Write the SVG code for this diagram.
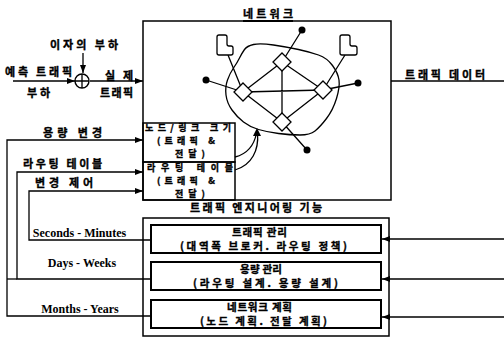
<svg xmlns="http://www.w3.org/2000/svg" width="504" height="338" viewBox="0 0 504 338">
<style>
.k{font-family:"Noto Sans CJK KR","Noto Sans",sans-serif;font-size:11px;font-weight:bold;fill:#000;stroke:#000;stroke-width:0.35}
.s{font-size:9px}
.m{font-size:10.5px}
.e{font-family:"Liberation Serif","Times New Roman",serif;font-size:12px;font-weight:bold;fill:#000}
.ln{fill:none;stroke:#000;stroke-width:1.3}
.box{fill:none;stroke:#000;stroke-width:1.5}
.ibox{fill:#fff;stroke:#000;stroke-width:2}
.dia{fill:#fff;stroke:#000;stroke-width:1.3}
.dot{fill:#000}
</style>
<defs>
<marker id="ah" viewBox="0 0 8 6" refX="8" refY="3" markerWidth="8" markerHeight="6" markerUnits="userSpaceOnUse" orient="auto"><path d="M0,0 L8,3 L0,6 z" fill="#000"/></marker>
</defs>
<rect width="504" height="338" fill="#fff"/>

<g id="connectors">
<path class="ln" d="M83,53 L83,73" marker-end="url(#ah)"/>
<path class="ln" d="M13,81 L75,81" marker-end="url(#ah)"/>
<path class="ln" d="M90,81 L143,81" marker-end="url(#ah)"/>
<path class="ln" d="M391,81 L504,81"/>
<path class="ln" d="M151,316 L7,316 L7,140 L143,140" marker-end="url(#ah)"/>
<path class="ln" d="M151,279 L17,279 L17,172 L143,172" marker-end="url(#ah)"/>
<path class="ln" d="M17,279 L7,279"/>
<path class="ln" d="M151,240 L29,240 L29,191 L143,191" marker-end="url(#ah)"/>
<path class="ln" d="M504,239 L382,239" marker-end="url(#ah)"/>
<path class="ln" d="M504,279 L382,279" marker-end="url(#ah)"/>
<path class="ln" d="M504,317 L382,317" marker-end="url(#ah)"/>
<path class="ln" d="M235,157 C247,154 254,146 256.5,133"/>
<path class="ln" d="M235,170 C252,165 259,150 257.5,133"/>
<path d="M253,136 L257,128 L261,136 z" fill="#000"/>
</g>

<g id="sum">
<circle cx="82" cy="81" r="7" fill="#fff" stroke="#000" stroke-width="1.4"/>
<path class="ln" d="M75,81 L89,81 M82,74 L82,88"/>
<text class="k" x="50" y="49" textLength="68" lengthAdjust="spacing">이자의 부하</text>
<text class="k" x="5" y="76" textLength="67" lengthAdjust="spacing">예측 트래픽</text>
<text class="k" x="27" y="97" textLength="23" lengthAdjust="spacing">부하</text>
<text class="k" x="105" y="79.5" textLength="28" lengthAdjust="spacing">실제</text>
<text class="k" x="100" y="97" textLength="33" lengthAdjust="spacing">트래픽</text>
</g>

<g id="network">
<rect class="box" x="143" y="21" width="248" height="179"/>
<line x1="243" y1="21" x2="293" y2="21" stroke="#000" stroke-width="2.2"/>
<text class="k" x="243" y="18" textLength="50" lengthAdjust="spacing">네트워크</text>
<path class="ln" d="M244.5,49.5 Q247,46 253.5,44.5 Q260,43 273.5,45 Q287,47 298.5,49.5 Q310,52 318.5,55 Q327,58 332.5,65.5 Q338,73 339,80 Q340,87 336.5,98.5 Q333,110 326.5,118.5 Q320,127 315,131 Q310,135 300,135 Q290,135 278.5,133.5 Q267,132 258.5,129.5 Q250,127 243.5,122 Q237,117 232,110 Q227,103 226,95 Q225,87 227.5,80 Q230,73 233.5,68 Q237,63 239.5,58 Q242,53 244.5,49.5 Z"/>
<path class="ln" d="M282,62 L243,92 M282,62 L323,90 M282,62 L282,122 M243,92 L323,90 M243,92 L282,122 M323,90 L282,122 M282,62 L302,30 M243,92 L206,80 M323,90 L358,83 M282,122 L307,150 M228,55 L243,92 M345,55 L323,90"/>
<circle class="dot" cx="302" cy="30" r="3.5"/>
<circle class="dot" cx="206" cy="80" r="3.5"/>
<circle class="dot" cx="358" cy="83" r="3.5"/>
<circle class="dot" cx="307" cy="150" r="3.5"/>
<polygon class="dia" points="282,53 291,62 282,71 273,62"/>
<polygon class="dia" points="243,83 252,92 243,101 234,92"/>
<polygon class="dia" points="323,81 332,90 323,99 314,90"/>
<polygon class="dia" points="282,113 291,122 282,131 273,122"/>
<path class="dia" d="M217,37 Q217,35 219,35 L225,35 Q227,35 227,37 L227,44 Q227,46 229,46 L231,46 Q233,46 233,48 L233,53 Q233,55 231,55 L219,55 Q217,55 217,53 Z"/>
<path class="dia" d="M340,37 Q340,35 342,35 L348,35 Q350,35 350,37 L350,44 Q350,46 352,46 L355,46 Q357,46 357,48 L357,53 Q357,55 355,55 L342,55 Q340,55 340,53 Z"/>
<text class="k" x="405" y="79" textLength="80" lengthAdjust="spacing">트래픽 데이터</text>
</g>

<g id="nodelink">
<rect class="box" x="143" y="123" width="92" height="39"/>
<text class="k s" x="145" y="131" textLength="86" lengthAdjust="spacing">노드/링크 크기</text>
<text class="k s" x="157" y="144" textLength="58" lengthAdjust="spacing">(트래픽 &amp;</text>
<text class="k s" x="175" y="157" textLength="30" lengthAdjust="spacing">전달)</text>
</g>

<g id="routingtable">
<rect class="box" x="143" y="162" width="92" height="38"/>
<text class="k s" x="147" y="170.5" textLength="86" lengthAdjust="spacing">라우팅 테이블</text>
<text class="k s" x="157" y="183.5" textLength="58" lengthAdjust="spacing">(트래픽 &amp;</text>
<text class="k s" x="175" y="196.5" textLength="30" lengthAdjust="spacing">전달)</text>
</g>

<g id="labels">
<text class="k" x="43" y="137" textLength="59" lengthAdjust="spacing">용량 변경</text>
<text class="k" x="23" y="168" textLength="79" lengthAdjust="spacing">라우팅 테이블</text>
<text class="k" x="35" y="186.5" textLength="58" lengthAdjust="spacing">변경 제어</text>
<text class="e" x="79.5" y="237" text-anchor="middle">Seconds - Minutes</text>
<text class="e" x="82" y="267" text-anchor="middle">Days - Weeks</text>
<text class="e" x="80" y="313" text-anchor="middle">Months - Years</text>
</g>

<g id="te">
<rect class="box" x="143" y="218" width="246" height="118"/>
<text class="k" x="190" y="212" textLength="132" lengthAdjust="spacing">트래픽 엔지니어링 기능</text>
</g>

<g id="trafficmgmt">
<rect class="ibox" x="151" y="225" width="230" height="28"/>
<text class="k m" x="232" y="236" textLength="55" lengthAdjust="spacing">트래픽 관리</text>
<text class="k m" x="180" y="249.5" textLength="167" lengthAdjust="spacing">(대역폭 브로커. 라우팅 정책)</text>
</g>

<g id="capacitymgmt">
<rect class="ibox" x="151" y="262" width="230" height="28"/>
<text class="k m" x="240" y="273" textLength="42" lengthAdjust="spacing">용량 관리</text>
<text class="k m" x="193" y="286.5" textLength="145" lengthAdjust="spacing">(라우팅 설계. 용량 설계)</text>
</g>

<g id="netplan">
<rect class="ibox" x="151" y="300" width="230" height="28"/>
<text class="k m" x="227" y="311" textLength="65" lengthAdjust="spacing">네트워크 계획</text>
<text class="k m" x="200" y="324.5" textLength="127" lengthAdjust="spacing">(노드 계획. 전달 계획)</text>
</g>
</svg>
